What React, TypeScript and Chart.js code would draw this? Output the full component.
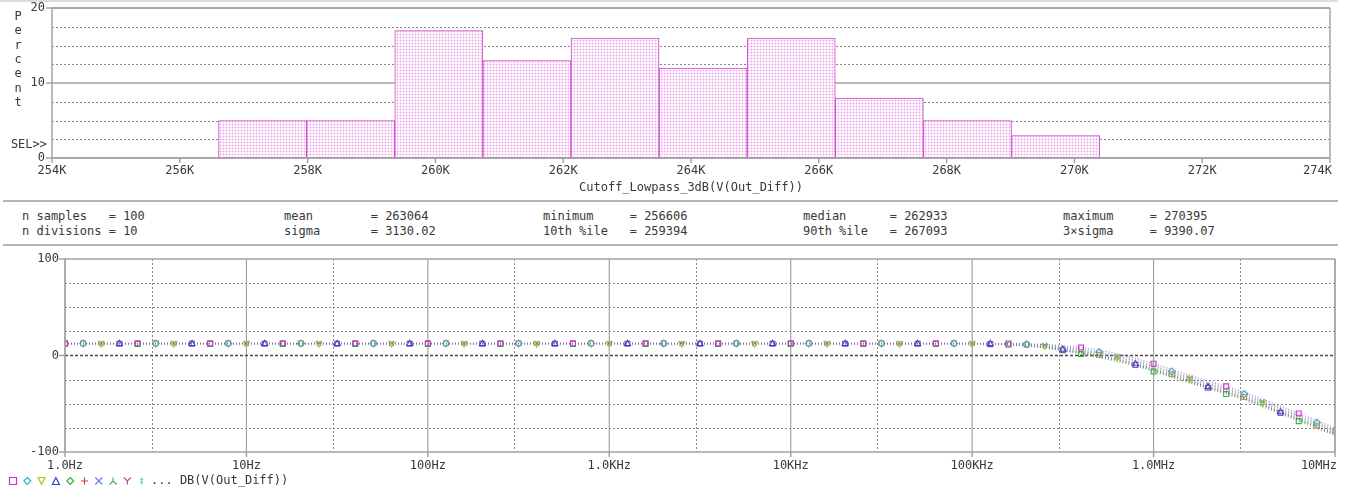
import React, { useEffect, useRef } from 'react';
import { Chart, registerables } from 'chart.js';

Chart.register(...registerables);

// ---------------- shared look ----------------
const MONO = '"DejaVu Sans Mono", "Liberation Mono", monospace';
const TEXT_COLOR = '#383838';
const AXIS_COLOR = '#a3a3a3';
const GRID_COLOR = '#8a8a8a';

// ---------------- histogram data ----------------
const BIN_EDGES = [256606, 257985, 259364, 260743, 262122, 263501, 264879, 266258, 267637, 269016, 270395];
const PERCENT = [5, 5, 17, 13, 16, 12, 16, 8, 5, 3];
const HIST_X_TICKS = [254000, 256000, 258000, 260000, 262000, 264000, 266000, 268000, 270000, 272000, 274000];
const HIST_X_LABELS = ['254K', '256K', '258K', '260K', '262K', '264K', '266K', '268K', '270K', '272K', '274K'];
const HIST_Y_TICKS = [0, 10, 20];
const HIST_Y_LABELS = ['0', '10', '20'];
const HIST_Y_MINOR = [2.5, 5, 7.5, 12.5, 15, 17.5];
const HIST_TITLE = 'Cutoff_Lowpass_3dB(V(Out_Diff))';
const HIST_Y_TITLE = ['P', 'e', 'r', 'c', 'e', 'n', 't'];

// ---------------- statistics ----------------
const STAT_LABELS_1 = ['n samples', 'mean', 'minimum', 'median', 'maximum'];
const STAT_VALUES_1 = ['100', '263064', '256606', '262933', '270395'];
const STAT_LABELS_2 = ['n divisions', 'sigma', '10th %ile', '90th %ile', '3×sigma'];
const STAT_VALUES_2 = ['10', '3130.02', '259394', '267093', '9390.07'];

// ---------------- bode data ----------------
const FREQ = [
  1, 1.259, 1.585, 1.995, 2.512, 3.162, 3.981, 5.012, 6.31, 7.943,
  10, 12.59, 15.85, 19.95, 25.12, 31.62, 39.81, 50.12, 63.1, 79.43,
  100, 125.9, 158.5, 199.5, 251.2, 316.2, 398.1, 501.2, 631, 794.3,
  1000, 1259, 1585, 1995, 2512, 3162, 3981, 5012, 6310, 7943,
  10000, 12590, 15850, 19950, 25120, 31620, 39810, 50120, 63100, 79430,
  100000, 125900, 158500, 199500, 251200, 316200, 398100, 501200, 631000, 794300,
  1000000, 1259000, 1585000, 1995000, 2512000, 3162000, 3981000, 5012000, 6310000, 7943000,
  10000000,
];

const TRACE_A = [
  12.6, 12.6, 12.6, 12.6, 12.6, 12.6, 12.6, 12.6, 12.6, 12.6,
  12.6, 12.6, 12.6, 12.6, 12.6, 12.6, 12.6, 12.6, 12.6, 12.6,
  12.6, 12.6, 12.6, 12.6, 12.6, 12.6, 12.6, 12.6, 12.6, 12.6,
  12.6, 12.6, 12.6, 12.6, 12.6, 12.6, 12.6, 12.6, 12.6, 12.6,
  12.6, 12.6, 12.6, 12.6, 12.6, 12.6, 12.6, 12.6, 12.6, 12.6,
  12.6, 12.5, 12.4, 12.1, 11.4, 10.3, 8.3, 5.6, 1.8, -2.8,
  -8.5, -14.5, -20.5, -26.5, -32.0, -38.0, -45.0, -52.5, -60.0, -67.5,
  -75.0,
];
const TRACE_B = [
  12.4, 12.4, 12.4, 12.4, 12.4, 12.4, 12.4, 12.4, 12.4, 12.4,
  12.4, 12.4, 12.4, 12.4, 12.4, 12.4, 12.4, 12.4, 12.4, 12.4,
  12.4, 12.4, 12.4, 12.4, 12.4, 12.4, 12.4, 12.4, 12.4, 12.4,
  12.4, 12.4, 12.4, 12.4, 12.4, 12.4, 12.4, 12.4, 12.4, 12.4,
  12.4, 12.4, 12.4, 12.4, 12.4, 12.4, 12.4, 12.4, 12.4, 12.4,
  12.4, 12.3, 12.1, 11.7, 10.9, 9.0, 6.6, 3.6, -0.2, -4.8,
  -10.5, -16.5, -22.5, -28.5, -34.0, -40.0, -47.0, -54.5, -62.0, -69.5,
  -77.0,
];
const TRACE_C = [
  12.3, 12.3, 12.3, 12.3, 12.3, 12.3, 12.3, 12.3, 12.3, 12.3,
  12.3, 12.3, 12.3, 12.3, 12.3, 12.3, 12.3, 12.3, 12.3, 12.3,
  12.3, 12.3, 12.3, 12.3, 12.3, 12.3, 12.3, 12.3, 12.3, 12.3,
  12.3, 12.3, 12.3, 12.3, 12.3, 12.3, 12.3, 12.3, 12.3, 12.3,
  12.3, 12.3, 12.3, 12.3, 12.3, 12.3, 12.3, 12.3, 12.3, 12.3,
  12.3, 12.1, 11.8, 11.2, 9.9, 7.6, 4.9, 1.6, -2.2, -6.8,
  -12.5, -18.5, -24.5, -30.5, -36.0, -42.0, -49.0, -56.5, -64.0, -71.5,
  -79.0,
];
const TRACE_D = [
  12.2, 12.2, 12.2, 12.2, 12.2, 12.2, 12.2, 12.2, 12.2, 12.2,
  12.2, 12.2, 12.2, 12.2, 12.2, 12.2, 12.2, 12.2, 12.2, 12.2,
  12.2, 12.2, 12.2, 12.2, 12.2, 12.2, 12.2, 12.2, 12.2, 12.2,
  12.2, 12.2, 12.2, 12.2, 12.2, 12.2, 12.2, 12.2, 12.2, 12.2,
  12.2, 12.2, 12.2, 12.2, 12.2, 12.2, 12.2, 12.2, 12.2, 12.2,
  12.2, 12.0, 11.5, 10.6, 8.9, 6.2, 3.2, -0.4, -4.2, -8.8,
  -14.5, -20.5, -26.5, -32.5, -38.0, -44.0, -51.0, -58.5, -66.0, -73.5,
  -81.0,
];
const TRACE_E = [
  12.0, 12.0, 12.0, 12.0, 12.0, 12.0, 12.0, 12.0, 12.0, 12.0,
  12.0, 12.0, 12.0, 12.0, 12.0, 12.0, 12.0, 12.0, 12.0, 12.0,
  12.0, 12.0, 12.0, 12.0, 12.0, 12.0, 12.0, 12.0, 12.0, 12.0,
  12.0, 12.0, 12.0, 12.0, 12.0, 12.0, 12.0, 12.0, 12.0, 12.0,
  12.0, 12.0, 12.0, 12.0, 12.0, 12.0, 12.0, 12.0, 12.0, 12.0,
  12.0, 11.7, 11.1, 10.0, 7.9, 4.8, 1.5, -2.4, -6.2, -10.8,
  -16.5, -22.5, -28.5, -34.5, -40.0, -46.0, -53.0, -60.5, -68.0, -75.5,
  -83.0,
];
const TRACE_F = [
  12.7, 12.7, 12.7, 12.7, 12.7, 12.7, 12.7, 12.7, 12.7, 12.7,
  12.7, 12.7, 12.7, 12.7, 12.7, 12.7, 12.7, 12.7, 12.7, 12.7,
  12.7, 12.7, 12.7, 12.7, 12.7, 12.7, 12.7, 12.7, 12.7, 12.7,
  12.7, 12.7, 12.7, 12.7, 12.7, 12.7, 12.7, 12.7, 12.7, 12.7,
  12.7, 12.7, 12.7, 12.7, 12.7, 12.7, 12.7, 12.7, 12.7, 12.7,
  12.7, 12.4, 11.9, 11.1, 9.5, 7.0, 4.2, 0.7, -3.2, -7.8,
  -13.5, -19.5, -25.5, -31.5, -37.0, -43.0, -50.0, -57.5, -65.0, -72.5,
  -80.0,
];
const TRACE_G = [
  12.5, 12.5, 12.5, 12.5, 12.5, 12.5, 12.5, 12.5, 12.5, 12.5,
  12.5, 12.5, 12.5, 12.5, 12.5, 12.5, 12.5, 12.5, 12.5, 12.5,
  12.5, 12.5, 12.5, 12.5, 12.5, 12.5, 12.5, 12.5, 12.5, 12.5,
  12.5, 12.5, 12.5, 12.5, 12.5, 12.5, 12.5, 12.5, 12.5, 12.5,
  12.5, 12.5, 12.5, 12.5, 12.5, 12.5, 12.5, 12.5, 12.5, 12.5,
  12.5, 12.3, 12.0, 11.5, 10.4, 8.3, 5.8, 2.6, -1.2, -5.8,
  -11.5, -17.5, -23.5, -29.5, -35.0, -41.0, -48.0, -55.5, -63.0, -70.5,
  -78.0,
];
const TRACE_H = [
  12.1, 12.1, 12.1, 12.1, 12.1, 12.1, 12.1, 12.1, 12.1, 12.1,
  12.1, 12.1, 12.1, 12.1, 12.1, 12.1, 12.1, 12.1, 12.1, 12.1,
  12.1, 12.1, 12.1, 12.1, 12.1, 12.1, 12.1, 12.1, 12.1, 12.1,
  12.1, 12.1, 12.1, 12.1, 12.1, 12.1, 12.1, 12.1, 12.1, 12.1,
  12.1, 12.1, 12.1, 12.1, 12.1, 12.1, 12.1, 12.1, 12.1, 12.1,
  12.1, 11.8, 11.3, 10.3, 8.4, 5.5, 2.3, -1.4, -5.2, -9.8,
  -15.5, -21.5, -27.5, -33.5, -39.0, -45.0, -52.0, -59.5, -67.0, -74.5,
  -82.0,
];

const TRACES = [TRACE_A, TRACE_B, TRACE_C, TRACE_D, TRACE_E, TRACE_F, TRACE_G, TRACE_H];
const TRACE_COLORS = ['#c832c8', '#2fb6c8', '#a6c61e', '#3342c8', '#36b436', '#d8893a', '#5b86e6', '#9a4ab8'];
const TRACE_POINT_STYLES = ['rect', 'rectRot', 'triangle', 'triangle', 'rect', 'rect', 'crossRot', 'rect'];
const TRACE_POINT_ROT = [0, 0, 180, 0, 0, 0, 0, 0];

const BODE_X_TICKS = [1, 10, 100, 1000, 10000, 100000, 1000000, 10000000];
const BODE_X_LABELS = ['1.0Hz', '10Hz', '100Hz', '1.0KHz', '10KHz', '100KHz', '1.0MHz', '10MHz'];
const BODE_X_MINOR = [3, 30, 300, 3000, 30000, 300000, 3000000];
const BODE_Y_TICKS = [-100, 0, 100];
const BODE_Y_LABELS = ['-100', '0', '100'];
const BODE_Y_MINOR = [-75, -50, -25, 25, 50, 75];

const LEGEND_SYMBOLS = ['square', 'diamond', 'tdown', 'tup', 'diamond', 'plus', 'cross', 'lambda', 'y', 'bar'];
const LEGEND_COLORS = ['#c832c8', '#2fb6c8', '#a6c61e', '#3342c8', '#36b436', '#e03a3a', '#5b86e6', '#4fa585', '#a452b8', '#58d89a'];
const LEGEND_TEXT = '... DB(V(Out_Diff))';

// ---------------- helpers ----------------
function hline(ctx: CanvasRenderingContext2D, x1: number, x2: number, y: number) {
  ctx.beginPath();
  ctx.moveTo(x1, y);
  ctx.lineTo(x2, y);
  ctx.stroke();
}
function vline(ctx: CanvasRenderingContext2D, x: number, y1: number, y2: number) {
  ctx.beginPath();
  ctx.moveTo(x, y1);
  ctx.lineTo(x, y2);
  ctx.stroke();
}
function label(ctx: CanvasRenderingContext2D, s: string, x: number, y: number, align: CanvasTextAlign = 'center') {
  ctx.textAlign = align;
  ctx.textBaseline = 'middle';
  ctx.fillText(s, x, y);
}

function drawSymbol(ctx: CanvasRenderingContext2D, kind: string, cx: number, cy: number, color: string) {
  const r = 3.5;
  ctx.save();
  ctx.strokeStyle = color;
  ctx.lineWidth = 1.2;
  ctx.setLineDash([]);
  ctx.beginPath();
  switch (kind) {
    case 'square':
      ctx.rect(cx - r, cy - r, 2 * r, 2 * r);
      break;
    case 'diamond':
      ctx.moveTo(cx, cy - r);
      ctx.lineTo(cx + r, cy);
      ctx.lineTo(cx, cy + r);
      ctx.lineTo(cx - r, cy);
      ctx.closePath();
      break;
    case 'tdown':
      ctx.moveTo(cx - r, cy - r);
      ctx.lineTo(cx + r, cy - r);
      ctx.lineTo(cx, cy + r);
      ctx.closePath();
      break;
    case 'tup':
      ctx.moveTo(cx - r, cy + r);
      ctx.lineTo(cx + r, cy + r);
      ctx.lineTo(cx, cy - r);
      ctx.closePath();
      break;
    case 'plus':
      ctx.moveTo(cx - r, cy);
      ctx.lineTo(cx + r, cy);
      ctx.moveTo(cx, cy - r);
      ctx.lineTo(cx, cy + r);
      break;
    case 'cross':
      ctx.moveTo(cx - r, cy - r);
      ctx.lineTo(cx + r, cy + r);
      ctx.moveTo(cx + r, cy - r);
      ctx.lineTo(cx - r, cy + r);
      break;
    case 'lambda':
      ctx.moveTo(cx, cy - r);
      ctx.lineTo(cx, cy);
      ctx.lineTo(cx - r, cy + r);
      ctx.moveTo(cx, cy);
      ctx.lineTo(cx + r, cy + r);
      break;
    case 'y':
      ctx.moveTo(cx - r, cy - r);
      ctx.lineTo(cx, cy);
      ctx.lineTo(cx + r, cy - r);
      ctx.moveTo(cx, cy);
      ctx.lineTo(cx, cy + r);
      break;
    default:
      ctx.moveTo(cx, cy - r);
      ctx.lineTo(cx, cy + r);
      ctx.moveTo(cx - 1.5, cy - 1.5);
      ctx.lineTo(cx + 1.5, cy - 1.5);
      ctx.moveTo(cx - 1.5, cy + 1.5);
      ctx.lineTo(cx + 1.5, cy + 1.5);
  }
  ctx.stroke();
  ctx.restore();
}

function makeBarPattern(): CanvasPattern | string {
  const c = document.createElement('canvas');
  c.width = 3;
  c.height = 3;
  const g = c.getContext('2d');
  if (!g) return '#f5e0f5';
  g.fillStyle = '#fef7fe';
  g.fillRect(0, 0, 3, 3);
  g.fillStyle = '#f7e0f7';
  g.fillRect(0, 1, 3, 1);
  g.fillRect(1, 0, 1, 3);
  g.fillStyle = '#e4a6e4';
  g.fillRect(1, 1, 1, 1);
  const p = g.createPattern(c, 'repeat');
  return p || '#f5e0f5';
}

// ---------------- plugins ----------------
const histDecor = {
  id: 'histDecor',
  beforeDatasetsDraw(chart: any) {
    const { ctx, chartArea: a, scales } = chart;
    const y = scales.y;
    ctx.save();
    ctx.strokeStyle = GRID_COLOR;
    ctx.lineWidth = 1;
    ctx.setLineDash([2, 2]);
    HIST_Y_MINOR.forEach((v) => hline(ctx, a.left, a.right, Math.round(y.getPixelForValue(v)) + 0.5));
    ctx.setLineDash([]);
    ctx.strokeStyle = AXIS_COLOR;
    ctx.lineWidth = 1.5;
    HIST_Y_TICKS.forEach((v) => hline(ctx, a.left, a.right, y.getPixelForValue(v)));
    ctx.restore();
  },
  afterDatasetsDraw(chart: any) {
    const { ctx, chartArea: a, scales } = chart;
    const x = scales.x;
    const y = scales.y;
    ctx.save();
    ctx.setLineDash([]);
    ctx.strokeStyle = AXIS_COLOR;
    ctx.lineWidth = 1.5;
    hline(ctx, a.left, a.right, a.top);
    hline(ctx, a.left, a.right, a.bottom);
    vline(ctx, a.left, a.top, a.bottom);
    vline(ctx, a.right, a.top, a.bottom);
    HIST_Y_TICKS.forEach((v) => hline(ctx, a.left - 6, a.left, y.getPixelForValue(v)));
    HIST_X_TICKS.forEach((v) => vline(ctx, x.getPixelForValue(v), a.bottom, a.bottom + 5));

    ctx.fillStyle = TEXT_COLOR;
    ctx.font = `12px ${MONO}`;
    const last = HIST_X_TICKS.length - 1;
    HIST_X_TICKS.forEach((v, i) => {
      if (i === last) label(ctx, HIST_X_LABELS[i], x.getPixelForValue(v) + 2, a.bottom + 13, 'right');
      else label(ctx, HIST_X_LABELS[i], x.getPixelForValue(v), a.bottom + 13);
    });
    label(ctx, HIST_TITLE, (a.left + a.right) / 2, a.bottom + 30);
    HIST_Y_TICKS.forEach((v, i) => label(ctx, HIST_Y_LABELS[i], a.left - 7, y.getPixelForValue(v), 'right'));
    HIST_Y_TITLE.forEach((ch, i) => label(ctx, ch, 18, 17 + i * 14.3));
    label(ctx, 'SEL>>', 47, 145, 'right');
    ctx.restore();
  },
};

const bodeDecor = {
  id: 'bodeDecor',
  beforeDatasetsDraw(chart: any) {
    const { ctx, chartArea: a, scales } = chart;
    const x = scales.x;
    const y = scales.y;
    ctx.save();
    ctx.strokeStyle = GRID_COLOR;
    ctx.lineWidth = 1;
    ctx.setLineDash([2, 2]);
    BODE_Y_MINOR.forEach((v) => hline(ctx, a.left, a.right, Math.round(y.getPixelForValue(v)) + 0.5));
    BODE_X_MINOR.forEach((v) => vline(ctx, Math.round(x.getPixelForValue(v)) + 0.5, a.top, a.bottom));
    ctx.setLineDash([]);
    ctx.strokeStyle = AXIS_COLOR;
    ctx.lineWidth = 1.2;
    BODE_X_TICKS.forEach((v) => vline(ctx, x.getPixelForValue(v), a.top, a.bottom));
    ctx.strokeStyle = '#4a4a4a';
    ctx.lineWidth = 1.5;
    ctx.setLineDash([3, 2]);
    hline(ctx, a.left, a.right, y.getPixelForValue(0));
    ctx.restore();
  },
  afterDatasetsDraw(chart: any) {
    const { ctx, chartArea: a, scales } = chart;
    const x = scales.x;
    const y = scales.y;
    ctx.save();
    ctx.setLineDash([]);
    ctx.strokeStyle = AXIS_COLOR;
    ctx.lineWidth = 1.5;
    hline(ctx, a.left, a.right, a.top);
    hline(ctx, a.left, a.right, a.bottom);
    vline(ctx, a.left, a.top, a.bottom);
    vline(ctx, a.right, a.top, a.bottom);
    BODE_Y_TICKS.forEach((v) => hline(ctx, a.left - 6, a.left, y.getPixelForValue(v)));
    BODE_X_TICKS.forEach((v) => vline(ctx, x.getPixelForValue(v), a.bottom, a.bottom + 5));

    ctx.fillStyle = TEXT_COLOR;
    ctx.font = `12px ${MONO}`;
    const last = BODE_X_TICKS.length - 1;
    BODE_X_TICKS.forEach((v, i) => {
      if (i === last) label(ctx, BODE_X_LABELS[i], x.getPixelForValue(v) + 2, a.bottom + 14, 'right');
      else label(ctx, BODE_X_LABELS[i], x.getPixelForValue(v), a.bottom + 14);
    });
    BODE_Y_TICKS.forEach((v, i) => label(ctx, BODE_Y_LABELS[i], a.left - 6, y.getPixelForValue(v), 'right'));

    const ly = a.bottom + 29;
    LEGEND_SYMBOLS.forEach((s, i) => drawSymbol(ctx, s, 13 + i * 14.3, ly, LEGEND_COLORS[i]));
    ctx.fillStyle = TEXT_COLOR;
    label(ctx, LEGEND_TEXT, 151, ly, 'left');
    ctx.restore();
  },
};

// ---------------- component ----------------
export default function App() {
  const histRef = useRef<HTMLCanvasElement | null>(null);
  const bodeRef = useRef<HTMLCanvasElement | null>(null);

  useEffect(() => {
    if (!histRef.current || !bodeRef.current) return;
    const pattern = makeBarPattern();
    const histData = PERCENT.map((p, i) => ({ x: (BIN_EDGES[i] + BIN_EDGES[i + 1]) / 2, y: p }));

    const hist = new Chart(histRef.current, {
      type: 'bar',
      data: {
        datasets: [
          {
            data: histData as any,
            backgroundColor: pattern as any,
            borderColor: '#c947c9',
            borderWidth: 1,
            borderSkipped: false,
            barPercentage: 1,
            categoryPercentage: 1,
          },
        ],
      },
      options: {
        responsive: false,
        animation: false,
        events: [],
        layout: { padding: { left: 52, right: 17, top: 8, bottom: 42 } },
        plugins: { legend: { display: false }, tooltip: { enabled: false } },
        scales: {
          x: { type: 'linear', min: 254000, max: 274000, offset: false, display: false },
          y: { type: 'linear', min: 0, max: 20, display: false },
        },
      },
      plugins: [histDecor],
    });

    const bode = new Chart(bodeRef.current, {
      type: 'line',
      data: {
        datasets: TRACES.map((t, k) => ({
          data: FREQ.map((f, i) => ({ x: f, y: t[i] })),
          borderColor: TRACE_COLORS[k] + 'c0',
          borderWidth: 1.2,
          borderDash: [1, 2],
          fill: false,
          tension: 0,
          pointStyle: TRACE_POINT_STYLES[k] as any,
          pointRotation: TRACE_POINT_ROT[k],
          pointRadius: FREQ.map((_, i) => (i % 4 === k % 4 ? 3.5 : 0)),
          pointBorderColor: TRACE_COLORS[k],
          pointBackgroundColor: 'rgba(0,0,0,0)',
          pointBorderWidth: 1.1,
        })),
      },
      options: {
        responsive: false,
        animation: false,
        events: [],
        layout: { padding: { left: 65, right: 12, top: 13, bottom: 38 } },
        plugins: { legend: { display: false }, tooltip: { enabled: false } },
        scales: {
          x: { type: 'logarithmic', min: 1, max: 10000000, display: false },
          y: { type: 'linear', min: -100, max: 100, display: false },
        },
      },
      plugins: [bodeDecor],
    });

    return () => {
      hist.destroy();
      bode.destroy();
    };
  }, []);

  const statX = [22, 284, 543, 803, 1063];
  const statStyle: React.CSSProperties = {
    position: 'absolute',
    font: `12px ${MONO}`,
    color: TEXT_COLOR,
    whiteSpace: 'pre',
    lineHeight: '14px',
  };
  const pad = (s: string) => (s + '            ').slice(0, 12);

  return (
    <div style={{ position: 'fixed', left: 0, top: 0, width: 1347, height: 490, background: '#fff', overflow: 'hidden' }}>
      <div style={{ position: 'absolute', left: 0, top: 0, width: 1338, height: 2, background: '#dcdcdc' }} />
      <canvas ref={histRef} width={1347} height={200} style={{ position: 'absolute', left: 0, top: 0, display: 'block' }} />
      <div style={{ position: 'absolute', left: 3, top: 200, width: 1335, height: 2, background: '#b4b4b4' }} />
      {STAT_LABELS_1.map((l, i) => (
        <div key={'r1' + i} style={{ ...statStyle, left: statX[i], top: 209 }}>
          {pad(l) + '= ' + STAT_VALUES_1[i]}
        </div>
      ))}
      {STAT_LABELS_2.map((l, i) => (
        <div key={'r2' + i} style={{ ...statStyle, left: statX[i], top: 223.5 }}>
          {pad(l) + '= ' + STAT_VALUES_2[i]}
        </div>
      ))}
      <div style={{ position: 'absolute', left: 3, top: 243.5, width: 1335, height: 2, background: '#b4b4b4' }} />
      <canvas ref={bodeRef} width={1347} height={244} style={{ position: 'absolute', left: 0, top: 246, display: 'block' }} />
    </div>
  );
}
